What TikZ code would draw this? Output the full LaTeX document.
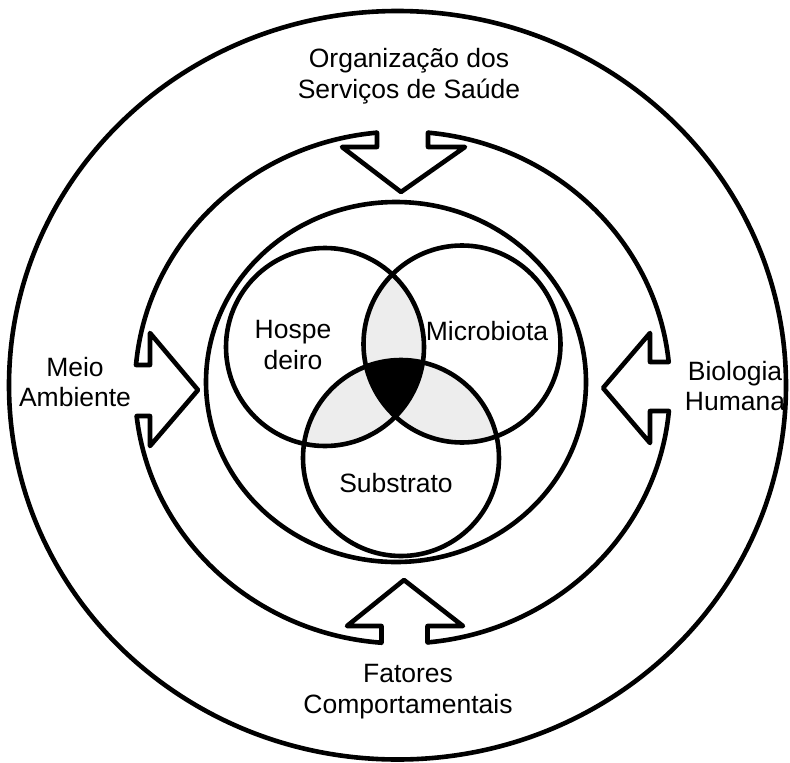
\documentclass[tikz,border=0pt]{standalone}
\usepackage{fontspec}
\setmainfont{Liberation Sans}
\begin{document}
\begin{tikzpicture}[x=1pt,y=-1pt,
  lbl/.style={font=\fontsize{26.5}{30.5}\selectfont, align=center, inner sep=0pt},
  thick line/.style={draw=black, line width=4.6pt},
  arrowline/.style={draw=black, line width=4.6pt, line join=round, line cap=round},
  pairfill/.style={fill=black!7}]
\useasboundingbox (0,0) rectangle (790,763);
\fill[white] (0,0) rectangle (790,763);

% Venn fills
\begin{scope}
  \clip (325,347) circle[radius=99pt];
  \fill[pairfill] (462,344) circle[radius=98.5pt];
  \fill[pairfill] (401,458) circle[radius=98pt];
\end{scope}
\begin{scope}
  \clip (462,344) circle[radius=98.5pt];
  \fill[pairfill] (401,458) circle[radius=98pt];
\end{scope}
\begin{scope}
  \clip (325,347) circle[radius=99pt];
  \clip (462,344) circle[radius=98.5pt];
  \fill[black] (401,458) circle[radius=98pt];
\end{scope}

% Venn circles
\draw[thick line] (325,347) circle[radius=99pt];
\draw[thick line] (462,344) circle[radius=98.5pt];
\draw[thick line] (401,458) circle[radius=98pt];

% inner, middle, outer rings
\draw[thick line] (396,382) ellipse[x radius=190pt, y radius=180pt];
\draw[thick line] (402.5,387.5) ellipse[x radius=267.5pt, y radius=256pt];
\draw[thick line] (397.5,385.25) ellipse[x radius=388.5pt, y radius=374.25pt];

% top arrow
\fill[white] (377,116) -- (377,147) -- (342,147) -- (401,192) -- (465,147) -- (428,147) -- (428,116) -- cycle;
\draw[arrowline] (377,132.7) -- (377,147) -- (342,147) -- (401,192) -- (465,147) -- (428,147) -- (428,132.7);

% bottom arrow
\fill[white] (381.5,660) -- (381.5,626) -- (347,626) -- (404,580) -- (463,626) -- (427.5,626) -- (427.5,660) -- cycle;
\draw[arrowline] (381.5,642.7) -- (381.5,626) -- (347,626) -- (404,580) -- (463,626) -- (427.5,626) -- (427.5,642.4);

% left arrow
\fill[white] (120,365) -- (150,365) -- (150,333) -- (198,390) -- (150,446) -- (150,416) -- (120,416) -- cycle;
\draw[arrowline] (136,365) -- (150,365) -- (150,333) -- (198,390) -- (150,446) -- (150,416) -- (136.7,416);

% right arrow
\fill[white] (685,362) -- (650,362) -- (650,333) -- (603,388) -- (650,443) -- (650,411) -- (685,411) -- cycle;
\draw[arrowline] (668.7,362) -- (650,362) -- (650,333) -- (603,388) -- (650,443) -- (650,411) -- (668.9,411);

% labels
\node[lbl] (org) at (409,76) {Organização dos\\Serviços de Saúde};
\node[lbl] (meio) at (75,382) {Meio\\Ambiente};
\node[lbl] (bio) at (735,386) {Biologia\\Humana};
\node[lbl] (fat) at (408,691.5) {Fatores\\Comportamentais};
\node[lbl] (hos) at (293,345) {Hospe\\deiro};
\node[lbl] (mic) at (487,331) {Microbiota};
\node[lbl] (sub) at (396,483) {Substrato};
\end{tikzpicture}
\end{document}
